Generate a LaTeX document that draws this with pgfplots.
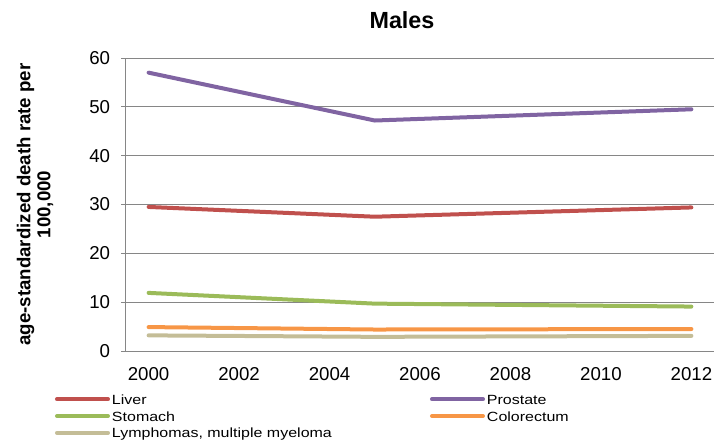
\documentclass[border=0pt]{standalone}
\usepackage{fontspec}
\setmainfont{Liberation Sans}
\newfontfamily\legfont[FakeStretch=1.2]{Liberation Sans}
\usepackage{pgfplots}
\pgfplotsset{compat=1.18}

\definecolor{cLiver}{HTML}{C0504D}
\definecolor{cProstate}{HTML}{8064A2}
\definecolor{cStomach}{HTML}{9BBB59}
\definecolor{cColo}{HTML}{F79646}
\definecolor{cLymph}{HTML}{C4BD97}
\definecolor{cGrid}{HTML}{868686}

\newcommand{\legstrut}{\rule[-3.6pt]{0pt}{12.75pt}}

\begin{document}
\begin{tikzpicture}
\begin{axis}[
    scale only axis,
    width=441pt,
    height=219.75pt,
    xmin=1999.5, xmax=2012.5,
    ymin=0, ymax=60,
    xtick={2000,2002,...,2012},
    ytick={0,10,...,60},
    /pgf/number format/assume math mode=true,
    xticklabel={\pgfmathprintnumber[1000 sep={}]{\tick}},
    axis x line*=bottom,
    axis y line*=left,
    axis line style={-, draw=cGrid, line width=0.75pt},
    x tick style={draw=none},
    y tick style={draw=cGrid, line width=0.75pt},
    tick align=outside,
    major tick length=3.75pt,
    ymajorgrids,
    major grid style={draw=cGrid, line width=0.75pt},
    tick label style={font=\fontsize{14}{16}\selectfont, inner sep=0pt},
    yticklabel style={xshift=-8pt},
    xticklabel style={yshift=-8.5pt},
    title={Males},
    title style={at={(axis description cs:0.4694,1)}, anchor=center,
        yshift=22.5pt, font=\fontsize{17.5}{20}\selectfont\bfseries},
    ylabel={age-standardized death rate per\\100,000},
    ylabel style={at={(axis description cs:0,0.5)}, anchor=center,
        rotate=0, yshift=68.25pt, align=center,
        font=\fontsize{14}{15}\selectfont\bfseries},
    legend columns=2,
    legend style={at={(axis description cs:0,0)}, anchor=north west,
        xshift=-53.25pt, yshift=-30.9pt, draw=none, fill=none,
        inner sep=0pt, outer sep=0pt,
        font=\legfont\fontsize{10}{12.75}\selectfont,
        column sep=0pt, row sep=1.9pt, nodes={inner sep=0pt},
        /tikz/every odd column/.append style={column sep=1.5pt}},
    legend cell align=left,
    legend image code/.code={
        \draw[#1, line width=3pt, line cap=round] (0pt,0pt) -- (38.25pt,0pt);
    },
    every axis plot/.append style={line width=3pt, line cap=round, line join=round, mark=none},
]
\addplot[cLiver] coordinates {(2000,29.5) (2005,27.5) (2012,29.4)};
\addlegendentry{\makebox[238.5pt][l]{\legstrut Liver}}
\addplot[cProstate] coordinates {(2000,57.0) (2005,47.2) (2012,49.5)};
\addlegendentry{\legstrut Prostate}
\addplot[cStomach] coordinates {(2000,11.9) (2005,9.7) (2012,9.1)};
\addlegendentry{\makebox[238.5pt][l]{\legstrut Stomach}}
\addplot[cColo] coordinates {(2000,4.9) (2005,4.4) (2012,4.5)};
\addlegendentry{\legstrut Colorectum}
\addplot[cLymph] coordinates {(2000,3.2) (2005,2.9) (2012,3.1)};
\addlegendentry{\makebox[238.5pt][l]{\legstrut Lymphomas, multiple myeloma}}
\coordinate (bl) at (rel axis cs:0,0);
\end{axis}
\pgfresetboundingbox
\path (bl) ++(-94.5pt,-66.75pt) rectangle ++(536.25pt,330pt);
\end{tikzpicture}
\end{document}
